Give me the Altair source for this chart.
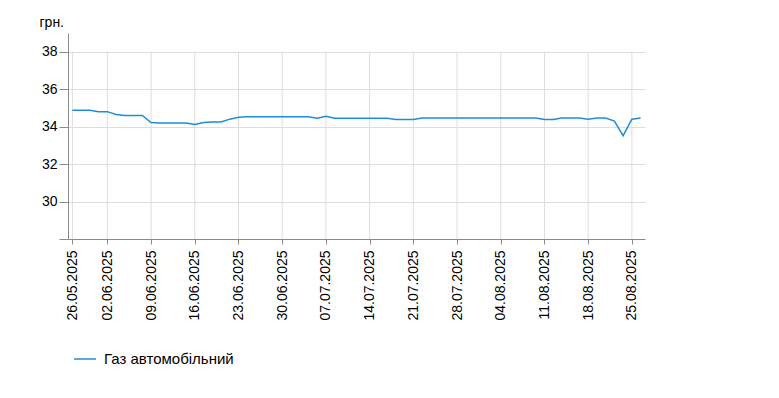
import altair as alt
import pandas as pd

# x categories: trading days shown on the chart
dates = [
    "26.05.2025", "27.05.2025", "28.05.2025", "29.05.2025",
    "02.06.2025", "03.06.2025", "04.06.2025", "05.06.2025", "06.06.2025",
    "09.06.2025", "10.06.2025", "11.06.2025", "12.06.2025", "13.06.2025",
    "16.06.2025", "17.06.2025", "18.06.2025", "19.06.2025", "20.06.2025",
    "23.06.2025", "24.06.2025", "25.06.2025", "26.06.2025", "27.06.2025",
    "30.06.2025", "01.07.2025", "02.07.2025", "03.07.2025", "04.07.2025",
    "07.07.2025", "08.07.2025", "09.07.2025", "10.07.2025", "11.07.2025",
    "14.07.2025", "15.07.2025", "16.07.2025", "17.07.2025", "18.07.2025",
    "21.07.2025", "22.07.2025", "23.07.2025", "24.07.2025", "25.07.2025",
    "28.07.2025", "29.07.2025", "30.07.2025", "31.07.2025", "01.08.2025",
    "04.08.2025", "05.08.2025", "06.08.2025", "07.08.2025", "08.08.2025",
    "11.08.2025", "12.08.2025", "13.08.2025", "14.08.2025", "15.08.2025",
    "18.08.2025", "19.08.2025", "20.08.2025", "21.08.2025", "22.08.2025",
    "25.08.2025", "26.08.2025",
]

prices = [
    34.87, 34.87, 34.87, 34.80,
    34.80, 34.65, 34.60, 34.60, 34.60,
    34.22, 34.20, 34.20, 34.20, 34.20,
    34.12, 34.22, 34.25, 34.25, 34.40,
    34.50, 34.53, 34.53, 34.53, 34.53,
    34.53, 34.53, 34.53, 34.53, 34.45,
    34.55, 34.45, 34.45, 34.45, 34.45,
    34.45, 34.45, 34.45, 34.38, 34.38,
    34.38, 34.46, 34.46, 34.46, 34.46,
    34.46, 34.46, 34.46, 34.46, 34.46,
    34.46, 34.46, 34.46, 34.46, 34.46,
    34.38, 34.38, 34.46, 34.46, 34.46,
    34.40, 34.46, 34.46, 34.30, 33.52,
    34.40, 34.46,
]

tick_dates = [
    "26.05.2025", "02.06.2025", "09.06.2025", "16.06.2025", "23.06.2025",
    "30.06.2025", "07.07.2025", "14.07.2025", "21.07.2025", "28.07.2025",
    "04.08.2025", "11.08.2025", "18.08.2025", "25.08.2025",
]

y_ticks = [28, 30, 32, 34, 36, 38]
series_name = "Газ автомобільний"
unit = "грн."

FONT = "Liberation Sans"
TEXT = "#000000"
AXIS = "#8a8a8a"
GRID = "#dddddd"
BLUE = "#1f8dd6"

df = pd.DataFrame({"date": dates, "price": prices, "series": series_name})
grid_df = pd.DataFrame({"date": tick_dates})

x_scale = alt.Scale(type="point", padding=0.5)
y_scale = alt.Scale(domain=[28, 39], nice=False, zero=False)

x_axis = alt.Axis(
    values=tick_dates, labelAngle=-90, grid=False, tickSize=5, labelPadding=6,
    labelFont=FONT, labelFontSize=14, labelColor=TEXT,
    domainColor=AXIS, tickColor=AXIS, title=None,
)

grid = alt.Chart(grid_df).mark_rule(color=GRID, strokeWidth=1).encode(
    x=alt.X("date:O", sort=dates, scale=x_scale, axis=x_axis),
    y=alt.datum(38),
    y2=alt.datum(28),
)

line = alt.Chart(df).mark_line(strokeWidth=1.5).encode(
    x=alt.X("date:O", sort=dates, scale=x_scale, axis=x_axis),
    y=alt.Y(
        "price:Q", scale=y_scale,
        axis=alt.Axis(
            values=y_ticks, labelExpr="datum.value == 28 ? '' : datum.label",
            grid=True, gridColor=GRID, tickSize=9, labelPadding=2,
            labelFont=FONT, labelFontSize=14, labelColor=TEXT,
            domainColor=AXIS, tickColor=AXIS,
            title=unit, titleAngle=0, titleAlign="left", titleBaseline="alphabetic",
            titleX=-29, titleY=-7, titleFont=FONT, titleFontSize=14,
            titleFontWeight="normal", titleColor=TEXT,
        ),
    ),
    color=alt.Color(
        "series:N", scale=alt.Scale(range=[BLUE]),
        legend=alt.Legend(
            orient="none", legendX=5, legendY=314, title=None,
            symbolType="stroke", symbolSize=484, symbolStrokeWidth=1.5,
            labelFont=FONT, labelFontSize=15, labelColor=TEXT, labelOffset=7,
            padding=0,
        ),
    ),
)

chart = alt.layer(grid, line).properties(
    width=577, height=206,
    autosize=alt.AutoSizeParams(type="none"),
    padding={"left": 60, "top": 25, "right": 120, "bottom": 140},
).configure_view(stroke=None)

chart.save("out.html", embed_options={"renderer": "svg", "actions": False})
